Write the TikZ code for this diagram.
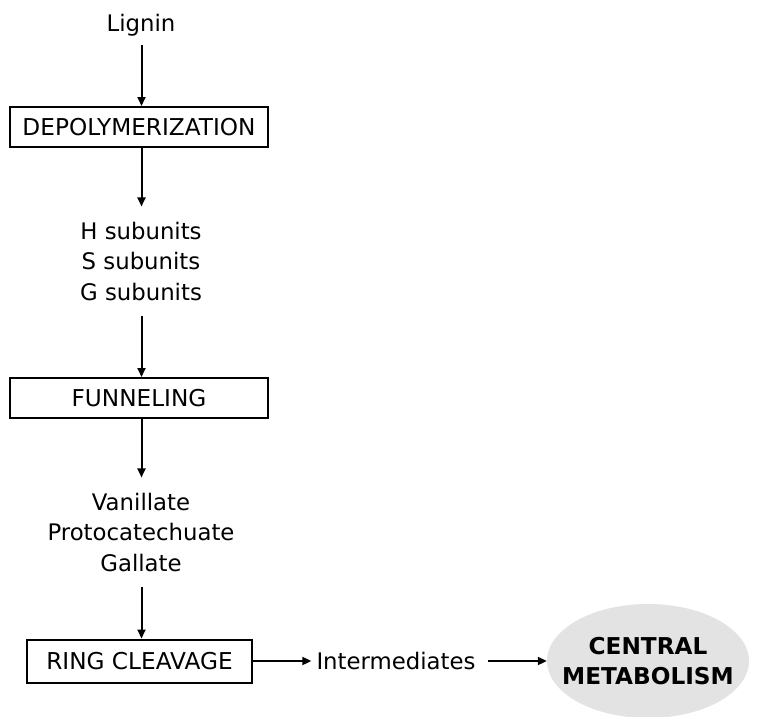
\documentclass[tikz,border=0pt]{standalone}
\usepackage{fontspec}
\setmainfont{DejaVu Sans}
\usetikzlibrary{arrows.meta,shapes.geometric}

\begin{document}
\begin{tikzpicture}[
	x=1pt, y=-1pt,
	txt/.style={
		font=\fontsize{22.8}{30.5}\selectfont,
		align=center, inner xsep=5pt, inner ysep=15pt
	},
	box/.style={
		draw, line width=2pt,
		minimum width=258pt, minimum height=40pt,
		inner sep=0pt, font=\fontsize{23.2}{30.5}\selectfont
	},
	arr/.style={-{Triangle[length=9pt,width=8pt]}, line width=2pt}
]
\useasboundingbox (0,0) rectangle (758,717);

% Nodes
% main column centred at x=141
\node[txt, inner ysep=9pt] (lignin) at (141, 25)  {Lignin};
\node[box] (depol) at (139, 127) {DEPOLYMERIZATION};
\node[txt] (subunits) at (141, 261) {H subunits\\S subunits\\G subunits};
\node[box] (funnel) at (139, 398) {FUNNELING};
\node[txt] (acids) at (141, 532) {Vanillate\\Protocatechuate\\Gallate};
\node[box, minimum width=225pt, minimum height=43pt] (ring) at (139.5, 661) {RING CLEAVAGE};

% bottom row
\node[txt, inner ysep=5pt] (inter) at (396, 661) {Intermediates};
\node[ellipse, fill=black!11, minimum width=202pt, minimum height=114pt, inner sep=0pt,
	label={[font=\fontsize{23.2}{30}\selectfont\bfseries, align=center]center:CENTRAL\\METABOLISM}]
	(central) at (648, 661) {};

% Arrows down the column
\draw[arr] (lignin.south -| 141.5,0)  -- (depol.north -| 141.5,0);
\draw[arr] (depol.south -| 141.5,0)   -- (subunits.north -| 141.5,0);
\draw[arr] (subunits.south -| 141.5,0) -- (funnel.north -| 141.5,0);
\draw[arr] (funnel.south -| 141.5,0)  -- (acids.north -| 141.5,0);
\draw[arr] (acids.south -| 141.5,0)   -- (ring.north -| 141.5,0);

% Arrows along the bottom row
\draw[arr] (ring.east) -- (inter.west);
\draw[arr, shorten <=7pt] (inter.east) -- (central.west);

\end{tikzpicture}
\end{document}
